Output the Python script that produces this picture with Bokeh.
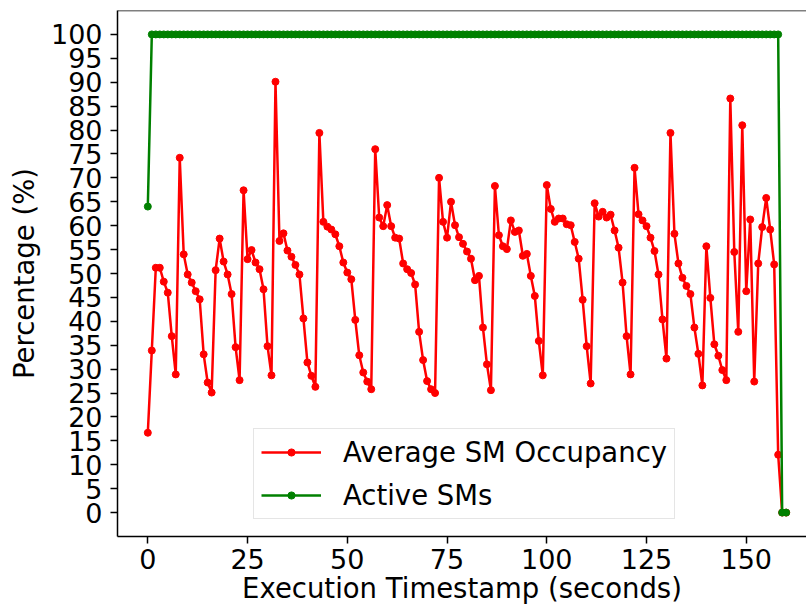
from bokeh.plotting import figure
from bokeh.models import FixedTicker, Legend, LegendItem, Range1d, Span
from bokeh.embed import file_html
from bokeh.resources import INLINE

timestamps = list(range(0, 161))

occupancy = [
    16.7, 33.9, 51.2, 51.2, 48.3, 46.0, 36.9, 28.9, 74.2, 54.0,
    49.8, 48.1, 46.3, 44.6, 33.1, 27.2, 25.1, 50.7, 57.3, 52.5,
    49.8, 45.7, 34.6, 27.7, 67.4, 53.0, 54.9, 52.3, 50.9, 46.7,
    34.8, 28.7, 90.1, 56.8, 58.4, 54.8, 53.5, 51.8, 49.8, 40.6,
    31.4, 28.6, 26.3, 79.4, 60.8, 59.8, 59.2, 58.2, 55.7, 52.3,
    50.2, 48.8, 40.3, 32.9, 29.3, 27.4, 25.8, 76.0, 61.7, 59.9,
    64.3, 59.9, 57.5, 57.3, 52.1, 50.9, 50.1, 47.7, 37.8, 31.9,
    27.5, 25.8, 25.0, 70.0, 60.8, 57.5, 65.0, 60.1, 57.6, 56.2,
    54.6, 53.1, 48.6, 49.5, 38.7, 31.0, 25.6, 68.3, 58.0, 55.7,
    55.1, 61.1, 58.7, 59.0, 53.7, 54.1, 49.5, 45.3, 35.9, 28.7,
    68.5, 63.5, 60.8, 61.5, 61.5, 60.3, 60.1, 56.6, 53.1, 44.5,
    34.8, 27.0, 64.7, 61.9, 62.9, 61.7, 62.3, 59.0, 55.4, 48.1,
    36.9, 28.9, 72.1, 62.4, 61.1, 59.9, 57.5, 54.7, 49.8, 40.4,
    32.2, 79.4, 58.3, 52.1, 49.1, 47.4, 45.7, 38.7, 33.2, 26.6,
    55.7, 44.9, 35.2, 32.8, 29.8, 27.7, 86.6, 54.5, 37.8, 81.0,
    46.3, 61.3, 27.4, 52.1, 59.7, 65.8, 59.2, 51.9, 12.1, 0.0,
    0.0,
]

active_sms = [
    64.0, 100.0, 100.0, 100.0, 100.0, 100.0, 100.0, 100.0, 100.0, 100.0,
    100.0, 100.0, 100.0, 100.0, 100.0, 100.0, 100.0, 100.0, 100.0, 100.0,
    100.0, 100.0, 100.0, 100.0, 100.0, 100.0, 100.0, 100.0, 100.0, 100.0,
    100.0, 100.0, 100.0, 100.0, 100.0, 100.0, 100.0, 100.0, 100.0, 100.0,
    100.0, 100.0, 100.0, 100.0, 100.0, 100.0, 100.0, 100.0, 100.0, 100.0,
    100.0, 100.0, 100.0, 100.0, 100.0, 100.0, 100.0, 100.0, 100.0, 100.0,
    100.0, 100.0, 100.0, 100.0, 100.0, 100.0, 100.0, 100.0, 100.0, 100.0,
    100.0, 100.0, 100.0, 100.0, 100.0, 100.0, 100.0, 100.0, 100.0, 100.0,
    100.0, 100.0, 100.0, 100.0, 100.0, 100.0, 100.0, 100.0, 100.0, 100.0,
    100.0, 100.0, 100.0, 100.0, 100.0, 100.0, 100.0, 100.0, 100.0, 100.0,
    100.0, 100.0, 100.0, 100.0, 100.0, 100.0, 100.0, 100.0, 100.0, 100.0,
    100.0, 100.0, 100.0, 100.0, 100.0, 100.0, 100.0, 100.0, 100.0, 100.0,
    100.0, 100.0, 100.0, 100.0, 100.0, 100.0, 100.0, 100.0, 100.0, 100.0,
    100.0, 100.0, 100.0, 100.0, 100.0, 100.0, 100.0, 100.0, 100.0, 100.0,
    100.0, 100.0, 100.0, 100.0, 100.0, 100.0, 100.0, 100.0, 100.0, 100.0,
    100.0, 100.0, 100.0, 100.0, 100.0, 100.0, 100.0, 100.0, 100.0, 0.0,
    0.0,
]

x_ticks = [0, 25, 50, 75, 100, 125, 150]
y_ticks = [0, 5, 10, 15, 20, 25, 30, 35, 40, 45, 50, 55, 60, 65, 70, 75, 80, 85, 90, 95, 100]

series_labels = ["Average SM Occupancy", "Active SMs"]
x_title = "Execution Timestamp (seconds)"
y_title = "Percentage (%)"

FONT = "DejaVu Sans"
FS = "27px"
FS_BIG = "27.5px"

p = figure(width=806, height=610, output_backend="svg", toolbar_location=None,
           x_range=Range1d(-7.6, 165.1), y_range=Range1d(-5, 105),
           min_border_left=117, min_border_right=0, min_border_top=10,
           min_border_bottom=74)
p.xgrid.visible = False
p.ygrid.visible = False
p.outline_line_color = None
p.background_fill_color = "white"
p.border_fill_color = "white"

# top spine (the right spine lies outside the reference crop)
p.add_layout(Span(location=105, dimension="width", line_color="black", line_width=1.5))

r1 = p.line(timestamps, occupancy, line_color="red", line_width=2.5)
s1 = p.scatter(timestamps, occupancy, size=7, fill_color="red", line_color="red")
r2 = p.line(timestamps, active_sms, line_color="green", line_width=2.5)
s2 = p.scatter(timestamps, active_sms, size=7, fill_color="green", line_color="green")

p.xaxis.ticker = FixedTicker(ticks=x_ticks)
p.yaxis.ticker = FixedTicker(ticks=y_ticks)
p.xaxis.axis_label = x_title
p.yaxis.axis_label = y_title
for ax in (p.xaxis[0], p.yaxis[0]):
    ax.major_label_text_font = FONT
    ax.major_label_text_font_size = FS
    ax.major_label_text_color = "black"
    ax.axis_label_text_font = FONT
    ax.axis_label_text_font_size = FS_BIG
    ax.axis_label_text_font_style = "normal"
    ax.axis_label_text_color = "black"
    ax.minor_tick_line_color = None
    ax.major_tick_in = 0
    ax.major_tick_out = 7
    ax.major_tick_line_width = 1.5
    ax.major_tick_line_color = "black"
    ax.axis_line_width = 1.5
    ax.axis_line_color = "black"
p.xaxis.major_label_standoff = 5
p.xaxis.axis_label_standoff = 0
p.yaxis.major_label_standoff = 8
p.yaxis.axis_label_standoff = 8

legend = Legend(items=[LegendItem(label=series_labels[0], renderers=[r1, s1]),
                       LegendItem(label=series_labels[1], renderers=[r2, s2])],
                location=(136, 17))
legend.label_text_font = FONT
legend.label_text_font_size = FS_BIG
legend.label_text_color = "black"
legend.glyph_width = 60
legend.glyph_height = 18
legend.label_height = 31
legend.label_standoff = 22
legend.spacing = 11
legend.padding = 7
legend.border_line_color = "#cccccc"
legend.border_line_width = 1.3
legend.background_fill_alpha = 0.8
p.add_layout(legend)

open("out.html", "w").write(file_html(p, INLINE))
